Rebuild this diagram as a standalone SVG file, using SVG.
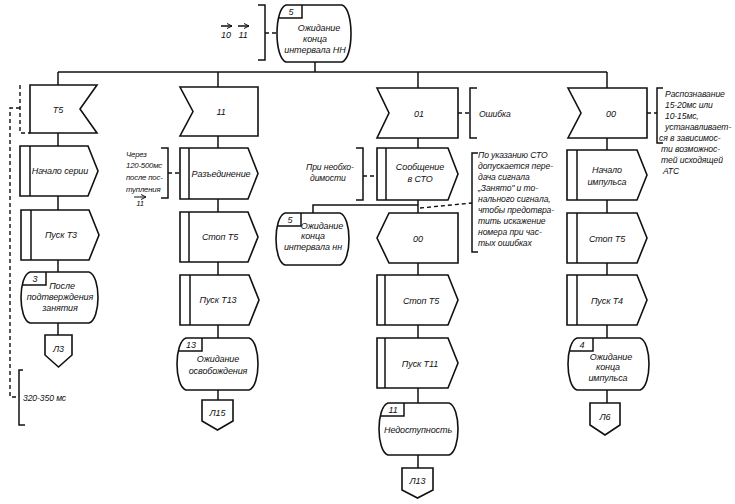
<svg xmlns="http://www.w3.org/2000/svg" width="735" height="504" viewBox="0 0 735 504">
<defs>
<style>
.s{fill:#fff;stroke:#111;stroke-width:1.6;stroke-linejoin:miter}
.l{fill:none;stroke:#111;stroke-width:1.5}
.d{fill:none;stroke:#111;stroke-width:1.4;stroke-dasharray:4 3}
text{font-family:"Liberation Sans",Arial,sans-serif;font-style:italic;font-size:9px;letter-spacing:-0.1px;fill:#111}
.a{font-size:8.6px}
.n{font-size:7.8px;letter-spacing:-0.2px}
.c{text-anchor:middle}
</style>
<marker id="ah" markerWidth="6" markerHeight="6" refX="5" refY="3" orient="auto" markerUnits="userSpaceOnUse">
<path d="M0,0.5 L5,3 L0,5.5" fill="none" stroke="#111" stroke-width="1"/>
</marker>
</defs>
<rect width="735" height="504" fill="#fff"/>

<g id="connectors">
<path class="l" d="M315,62 V72 M58,72 H607"/>
<path class="l" d="M58,72 V335"/>
<path class="l" d="M218,72 V400"/>
<path class="l" d="M418,72 V468"/>
<path class="l" d="M607,72 V403"/>
<path class="l" d="M418,205 H313 V213"/>
</g>

<g id="annotations">
<path class="l" d="M258,5 H265 V60 H258"/>
<path class="d" d="M265,33 H277"/>
<path class="l" d="M221,26 H232" marker-end="url(#ah)"/>
<path class="l" d="M238,26 H249" marker-end="url(#ah)"/>
<text class="c" x="226" y="38">10</text>
<text class="c" x="243" y="38">11</text>

<path class="d" d="M20,85 V133 H30"/>
<path class="d" d="M20,108 H10 V397 H18"/>
<path class="l" d="M23,370 H19 V425 H25"/>
<text class="a" x="23" y="401">320-350 мс</text>

<path class="l" d="M161,148 H168 V198 H161"/>
<path class="d" d="M168,173 H180"/>
<text class="n" x="126" y="157">Через</text>
<text class="n" x="126" y="168">120-500мс</text>
<text class="n" x="126" y="180">после пос-</text>
<text class="n" x="126" y="192">тупления</text>
<path class="l" d="M134,197 H146" marker-end="url(#ah)" style="stroke-width:1"/>
<text class="n c" x="140" y="206">11</text>

<path class="l" d="M477,88 H470 V138 H477"/>
<path class="d" d="M458,113 H470"/>
<text class="a" x="479" y="117">Ошибка</text>

<path class="l" d="M356,148 H363 V200 H356"/>
<path class="d" d="M363,176 H377"/>
<text class="a" x="306" y="170">При необхо-</text>
<text class="a" x="310" y="181">димости</text>

<path class="l" d="M478,153 H472 V252 H478"/>
<path class="d" d="M420,208 L472,203"/>
<text class="a" x="478" y="158">По указанию СТО</text>
<text class="a" x="478" y="169">допускается пере-</text>
<text class="a" x="478" y="180">дача сигнала</text>
<text class="a" x="478" y="191">„Занято" и то-</text>
<text class="a" x="478" y="202">нального сигнала,</text>
<text class="a" x="478" y="213">чтобы предотвра-</text>
<text class="a" x="478" y="224">тить искажение</text>
<text class="a" x="478" y="235">номера при час-</text>
<text class="a" x="478" y="246">тых ошибках</text>

<path class="l" d="M663,88 H657 V143 H663"/>
<path class="d" d="M647,113 H657"/>
<text class="a" x="665" y="97">Распознавание</text>
<text class="a" x="665" y="108">15-20мс или</text>
<text class="a" x="665" y="119">10-15мс,</text>
<text class="a" x="665" y="130">устанавливает-</text>
<text class="a" x="659" y="141">ся в зависимос-</text>
<text class="a" x="661" y="152">ти возможнос-</text>
<text class="a" x="661" y="163">тей исходящей</text>
<text class="a" x="663" y="174">АТС</text>
</g>

<g id="state-top">
<path class="s" d="M286,5 H342 C354,9 354,58 342,62 H286 C274,58 274,9 286,5 Z"/>
<path class="l" d="M302,5 V18 H278"/>
<text class="c" x="291" y="15">5</text>
<text class="c" x="319" y="31">Ожидание</text>
<text class="c" x="315" y="42">конца</text>
<text class="c" x="315" y="53">интервала НН</text>
</g>

<g id="c1-input-t5">
<path class="s" d="M30,85 H97 L80,109 L97,133 H30 Z"/>
<text class="c" x="58" y="113">Т5</text>
</g>
<g id="c1-nachalo-serii">
<path class="s" d="M20,146 H88 L98,171 L88,196 H20 Z"/>
<path class="l" d="M30,146 V196"/>
<text class="c" x="60" y="174">Начало серии</text>
</g>
<g id="c1-pusk-t3">
<path class="s" d="M21,210 H89 L99,235 L89,260 H21 Z"/>
<path class="l" d="M31,210 V260"/>
<text class="c" x="61" y="238">Пуск Т3</text>
</g>
<g id="c1-state-3">
<path class="s" d="M30,272 H89 C101,276 101,319 89,323 H30 C18,319 18,276 30,272 Z"/>
<path class="l" d="M46,272 V285 H22"/>
<text class="c" x="35" y="282">3</text>
<text class="c" x="62" y="289">После</text>
<text class="c" x="60" y="300">подтверждения</text>
<text class="c" x="60" y="311">занятия</text>
</g>
<g id="c1-l3">
<path class="s" d="M45,335 H72 V355 L58.5,367 L45,355 Z"/>
<text class="c" x="58.5" y="352">Л3</text>
</g>

<g id="c2-input-11">
<path class="s" d="M180,87 H258 V136 H180 L193,111.5 Z"/>
<text class="c" x="221" y="115">11</text>
</g>
<g id="c2-razedinenie">
<path class="s" d="M180,148 H248 L258,173.5 L248,199 H180 Z"/>
<path class="l" d="M189,148 V199"/>
<text class="c" x="221" y="177">Разъединение</text>
</g>
<g id="c2-stop-t5">
<path class="s" d="M180,212 H248 L258,237 L248,262 H180 Z"/>
<path class="l" d="M189,212 V262"/>
<text class="c" x="220" y="240">Стоп Т5</text>
</g>
<g id="c2-pusk-t13">
<path class="s" d="M180,275 H249 L259,300 L249,325 H180 Z"/>
<path class="l" d="M190,275 V325"/>
<text class="c" x="218" y="303">Пуск Т13</text>
</g>
<g id="c2-state-13">
<path class="s" d="M186,338 H249 C261,342 261,386 249,390 H186 C174,386 174,342 186,338 Z"/>
<path class="l" d="M202,338 V351 H178"/>
<text class="c" x="191" y="348">13</text>
<text class="c" x="218" y="362">Ожидание</text>
<text class="c" x="218" y="374">освобождения</text>
</g>
<g id="c2-l15">
<path class="s" d="M202,400 H233 V421 L217.5,430 L202,421 Z"/>
<text class="c" x="217.5" y="416">Л15</text>
</g>

<g id="c3-input-01">
<path class="s" d="M377,88 H458 V138 H377 L389,113 Z"/>
<text class="c" x="419" y="117">01</text>
</g>
<g id="c3-soobshchenie">
<path class="s" d="M377,148 H448 L458,174 L448,200 H377 Z"/>
<path class="l" d="M386,148 V200"/>
<text class="c" x="420" y="170">Сообщение</text>
<text class="c" x="420" y="182">в СТО</text>
</g>
<g id="c3-state-5">
<path class="s" d="M285,213 H340 C352,217 352,261 340,265 H285 C273,261 273,217 285,213 Z"/>
<path class="l" d="M301,213 V226 H277"/>
<text class="c" x="290" y="223">5</text>
<text class="c" x="322" y="229">Ожидание</text>
<text class="c" x="313" y="239">конца</text>
<text class="c" x="313" y="250">интервала нн</text>
</g>
<g id="c3-output-00">
<path class="s" d="M389,213 H458 V263 H389 L377,238 Z"/>
<text class="c" x="418" y="242">00</text>
</g>
<g id="c3-stop-t5">
<path class="s" d="M377,275 H448 L458,300 L448,325 H377 Z"/>
<path class="l" d="M385,275 V325"/>
<text class="c" x="421" y="304">Стоп Т5</text>
</g>
<g id="c3-pusk-t11">
<path class="s" d="M377,338 H448 L458,363 L448,388 H377 Z"/>
<path class="l" d="M385,338 V388"/>
<text class="c" x="420" y="367">Пуск Т11</text>
</g>
<g id="c3-state-11">
<path class="s" d="M388,403 H449 C461,407 461,451 449,455 H388 C376,451 376,407 388,403 Z"/>
<path class="l" d="M404,403 V416 H380"/>
<text class="c" x="393" y="413">11</text>
<text class="c" x="418" y="433">Недоступность</text>
</g>
<g id="c3-l13">
<path class="s" d="M402,468 H433 V490 L417.5,498 L402,490 Z"/>
<text class="c" x="417.5" y="484">Л13</text>
</g>

<g id="c4-input-00">
<path class="s" d="M568,88 H647 V138 H568 L581,113 Z"/>
<text class="c" x="611" y="117">00</text>
</g>
<g id="c4-nachalo-impulsa">
<path class="s" d="M567,150 H637 L647,175 L637,200 H567 Z"/>
<path class="l" d="M577,150 V200"/>
<text class="c" x="607" y="173">Начало</text>
<text class="c" x="607" y="185">импульса</text>
</g>
<g id="c4-stop-t5">
<path class="s" d="M567,213 H637 L647,238 L637,263 H567 Z"/>
<path class="l" d="M577,213 V263"/>
<text class="c" x="607" y="242">Стоп Т5</text>
</g>
<g id="c4-pusk-t4">
<path class="s" d="M567,275 H637 L647,300 L637,325 H567 Z"/>
<path class="l" d="M577,275 V325"/>
<text class="c" x="607" y="304">Пуск Т4</text>
</g>
<g id="c4-state-4">
<path class="s" d="M577,338 H640 C652,342 652,386 640,390 H577 C565,386 565,342 577,338 Z"/>
<path class="l" d="M593,338 V351 H569"/>
<text class="c" x="582" y="348">4</text>
<text class="c" x="611" y="360">Ожидание</text>
<text class="c" x="608" y="370">конца</text>
<text class="c" x="608" y="381">импульса</text>
</g>
<g id="c4-l6">
<path class="s" d="M590,403 H620 V425 L605,435 L590,425 Z"/>
<text class="c" x="605" y="420">Л6</text>
</g>
</svg>
